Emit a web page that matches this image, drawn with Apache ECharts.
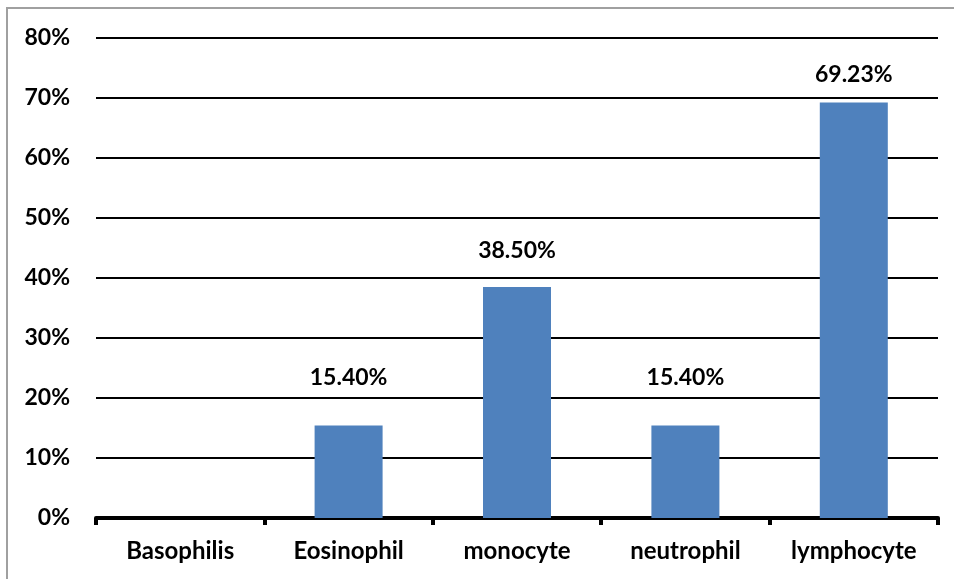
<!DOCTYPE html>
<html>
<head>
<meta charset="utf-8">
<script src="https://cdn.jsdelivr.net/npm/echarts@6/dist/echarts.min.js"></script>
<style>
  html, body { margin: 0; padding: 0; background: #fff; }
  #chart { width: 954px; height: 579px; }
</style>
</head>
<body>
<div id="chart"></div>
<script>
// White blood cell distribution (percent)
const categories = ['Basophilis', 'Eosinophil', 'monocyte', 'neutrophil', 'lymphocyte'];
const percentages = [0, 15.40, 38.50, 15.40, 69.23];
const valueLabels = ['', '15.40%', '38.50%', '15.40%', '69.23%'];
const labelGaps = [0, 37, 25, 37, 17];

const yTicks = { min: 0, max: 80, interval: 10 };

const FONT = 'Lato';

const chart = echarts.init(document.getElementById('chart'), null, { renderer: 'canvas' });

chart.setOption({
  animation: false,
  backgroundColor: '#ffffff',
  graphic: [{
    type: 'polyline',
    shape: { points: [[7, 579], [7, 8], [954, 8]] },
    style: { stroke: '#a0a0a0', lineWidth: 2, fill: null },
    silent: true
  }],
  grid: { left: 96, right: 16, top: 38, bottom: 61, containLabel: false },
  xAxis: {
    type: 'category',
    data: categories,
    axisLine: { show: true, lineStyle: { color: '#000', width: 4 } },
    axisTick: { show: true, alignWithLabel: false, length: 7, lineStyle: { color: '#000', width: 4 } },
    axisLabel: {
      color: '#000', fontFamily: FONT, fontWeight: 'bold', fontSize: 24, margin: 21
    },
    splitLine: { show: false }
  },
  yAxis: {
    type: 'value',
    min: yTicks.min,
    max: yTicks.max,
    interval: yTicks.interval,
    axisLine: { show: false },
    axisTick: { show: false },
    axisLabel: {
      color: '#000', fontFamily: FONT, fontWeight: 'bold', fontSize: 23, margin: 26,
      formatter: v => v + '%'
    },
    splitLine: { show: true, lineStyle: { color: '#000', width: 2 } }
  },
  series: [{
    type: 'bar',
    data: percentages.map((v, i) => ({
      value: v,
      label: {
        show: valueLabels[i] !== '',
        position: 'top',
        distance: labelGaps[i],
        formatter: valueLabels[i]
      }
    })),
    barWidth: 68,
    itemStyle: { color: '#4f81bd' },
    label: {
      color: '#000', fontFamily: FONT, fontWeight: 'bold', fontSize: 23
    }
  }]
});
</script>
</body>
</html>
